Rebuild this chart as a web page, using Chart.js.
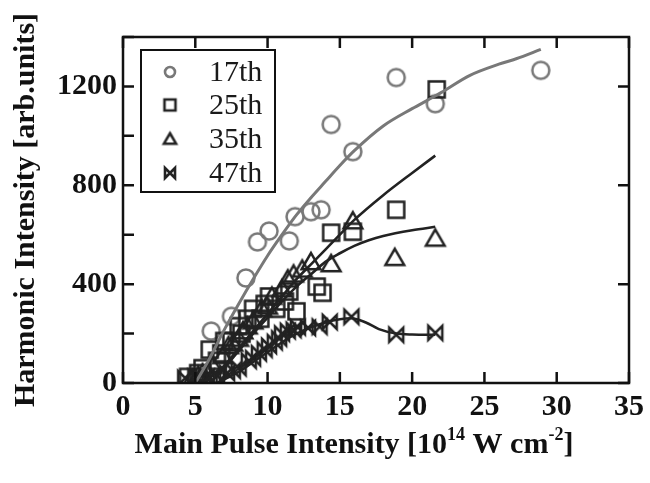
<!DOCTYPE html>
<html>
<head>
<meta charset="utf-8">
<script src="https://cdn.jsdelivr.net/npm/chart.js@4.4.1/dist/chart.umd.min.js"></script>
<style>
  html, body { margin: 0; padding: 0; background: #fff; }
</style>
</head>
<body>
<canvas id="myChart" width="650" height="483"></canvas>
<script>
// harmonic orders shown in the legend
var orders = ['17th', '25th', '35th', '47th'];

// measured points, x in 1e14 W/cm2, y in arb. units
var x17 = [6.1, 7.5, 8.5, 9.3, 10.1, 11.5, 11.9, 13.0, 13.7, 14.4, 15.9, 18.9, 21.6, 28.9];
var y17 = [210, 270, 425, 571, 615, 575, 673, 693, 701, 1046, 936, 1236, 1130, 1265];

var x25 = [4.5, 5.2, 5.5, 6.0, 6.5, 6.8, 7.0, 7.5, 8.0, 8.2, 8.6, 9.0, 9.5, 9.8, 10.1, 10.6, 11.2, 11.5, 12.0, 13.4, 13.8, 14.4, 15.9, 18.9, 21.7];
var y25 = [25, 40, 60, 135, 90, 120, 170, 170, 230, 200, 260, 300, 260, 320, 350, 300, 330, 370, 290, 390, 365, 608, 612, 701, 1188];

var x35 = [4.8, 5.2, 5.5, 6.2, 6.9, 7.3, 7.6, 8.0, 8.3, 8.6, 9.0, 9.6, 10.0, 10.3, 11.0, 11.4, 11.8, 12.4, 13.0, 14.4, 15.9, 18.8, 21.6];
var y35 = [20, 30, 40, 70, 110, 150, 160, 180, 210, 230, 250, 300, 310, 350, 380, 420, 440, 460, 490, 482, 655, 507, 585];

var x47 = [4.3, 5.0, 5.8, 6.0, 6.5, 7.2, 7.6, 8.0, 8.7, 9.0, 9.4, 9.8, 10.1, 10.5, 10.8, 11.0, 11.4, 11.8, 12.1, 12.8, 13.6, 14.3, 15.8, 18.9, 21.6];
var y47 = [20, 25, 25, 20, 30, 40, 50, 60, 90, 100, 120, 135, 150, 165, 180, 200, 210, 215, 225, 223, 228, 247, 268, 195, 203];

// guide curves through each set
var fit17X = [5.0, 6.0, 7.0, 8.0, 9.0, 10.0, 11.0, 12.0, 13.0, 14.0, 15.0, 16.0, 18.0, 20.0, 21.4, 22.0, 24.0, 26.0, 27.2, 28.9];
var fit17Y = [0, 100, 215, 320, 420, 515, 600, 680, 750, 815, 880, 940, 1040, 1110, 1155, 1175, 1245, 1290, 1312, 1350];

var fit25X = [5.5, 7, 8, 9, 10, 11, 12, 13, 14, 15, 16, 18, 20, 21.6];
var fit25Y = [0, 70, 140, 210, 280, 350, 420, 480, 540, 600, 660, 760, 850, 920];

var fit35X = [6, 7, 8, 9, 10, 11, 12, 13, 14, 15, 16, 17, 18, 20, 21.6];
var fit35Y = [0, 60, 130, 200, 265, 330, 390, 440, 490, 525, 555, 578, 595, 618, 632];

var fit47X = [6.5, 8, 9, 10, 11, 12, 13, 14, 15, 15.8, 16.8, 17.7, 18.9, 20, 21.6];
var fit47Y = [0, 45, 85, 125, 165, 200, 225, 245, 258, 262, 245, 218, 200, 196, 195];

var yLabelTicks = [0, 400, 800, 1200];

var GRAY = '#787878';
var DARK = '#222222';
var SERIF = "'Liberation Serif', 'Times New Roman', serif";

function pts(xs, ys) {
  return xs.map(function (x, i) { return { x: x, y: ys[i] }; });
}

// hollow marker drawn on a small canvas, used as pointStyle
function marker(kind, color, s, lw) {
  var c = document.createElement('canvas');
  var n = Math.ceil(s * 2.4 + lw * 2 + 2);
  c.width = n; c.height = n;
  var g = c.getContext('2d');
  g.translate(n / 2, n / 2);
  g.strokeStyle = color;
  g.lineWidth = lw;
  g.miterLimit = 3;
  g.beginPath();
  if (kind == 'circle') {
    g.arc(0, 0, s, 0, Math.PI * 2);
  } else if (kind == 'square') {
    g.rect(-s, -s, 2 * s, 2 * s);
  } else if (kind == 'triangle') {
    g.moveTo(0, -s * 1.05); g.lineTo(s * 1.1, s * 0.85); g.lineTo(-s * 1.1, s * 0.85); g.closePath();
  } else {
    g.moveTo(-s, -s); g.lineTo(s, s); g.lineTo(s, -s); g.lineTo(-s, s); g.closePath();
  }
  g.stroke();
  return c;
}

var kinds = ['circle', 'square', 'triangle', 'bowtie'];
var colors = [GRAY, DARK, DARK, DARK];
var bigSize = [8.5, 8, 8.5, 7];
var smallSize = [5, 5.5, 5.5, 5];
var bigMarks = kinds.map(function (k, i) { return marker(k, colors[i], bigSize[i], 2.5); });
var smallMarks = kinds.map(function (k, i) { return marker(k, colors[i], smallSize[i], 2.6); });

function fitSet(xs, ys, color, w) {
  return {
    data: pts(xs, ys), showLine: true, borderColor: color, borderWidth: w,
    pointRadius: 0, cubicInterpolationMode: 'monotone', fill: false
  };
}
function markSet(xs, ys, i) {
  return {
    label: orders[i], data: pts(xs, ys), showLine: false,
    pointStyle: bigMarks[i], pointRadius: 9
  };
}

var tl = 11;
var decor = {
  id: 'decor',
  afterDraw: function (chart) {
    var ctx = chart.ctx, a = chart.chartArea, xs = chart.scales.x, ys = chart.scales.y;
    ctx.save();
    ctx.strokeStyle = '#111';
    ctx.lineWidth = 2.5;
    ctx.strokeRect(a.left, a.top, a.right - a.left, a.bottom - a.top);
    ctx.beginPath();
    xs.ticks.forEach(function (t) {
      var p = xs.getPixelForValue(t.value);
      ctx.moveTo(p, a.bottom); ctx.lineTo(p, a.bottom - tl);
      ctx.moveTo(p, a.top); ctx.lineTo(p, a.top + tl);
    });
    ys.ticks.forEach(function (t) {
      var p = ys.getPixelForValue(t.value);
      ctx.moveTo(a.left, p); ctx.lineTo(a.left + tl, p);
      if (yLabelTicks.indexOf(t.value) >= 0) { ctx.moveTo(a.right, p); ctx.lineTo(a.right - tl, p); }
    });
    ctx.stroke();

    // legend box
    ctx.lineWidth = 2;
    ctx.strokeRect(141, 50, 134, 142);
    ctx.font = '30px ' + SERIF;
    ctx.fillStyle = '#1a1a1a';
    ctx.textBaseline = 'middle';
    ctx.textAlign = 'left';
    var rows = [72, 105, 139, 173];
    orders.forEach(function (o, i) {
      var m = smallMarks[i];
      ctx.drawImage(m, 170 - m.width / 2, rows[i] - m.height / 2);
      ctx.fillText(o, 209, rows[i] + 1);
    });

    // x title with superscripts
    var big = 'bold 30px ' + SERIF, sm = 'bold 18px ' + SERIF;
    var parts = [['Main Pulse Intensity [10', big, 0], ['14', sm, -13], [' W cm', big, 0], ['-2', sm, -13], [']', big, 0]];
    var w = 0;
    parts.forEach(function (p) { ctx.font = p[1]; w += ctx.measureText(p[0]).width; });
    var x = 354 - w / 2, base = 453;
    ctx.textBaseline = 'alphabetic';
    ctx.fillStyle = '#111';
    parts.forEach(function (p) {
      ctx.font = p[1];
      ctx.fillText(p[0], x, base + p[2]);
      x += ctx.measureText(p[0]).width;
    });
    ctx.restore();
  }
};

var data = {
  datasets: [
    fitSet(fit17X, fit17Y, GRAY, 3),
    fitSet(fit25X, fit25Y, DARK, 2.6),
    fitSet(fit35X, fit35Y, DARK, 2.6),
    fitSet(fit47X, fit47Y, DARK, 2.6),
    markSet(x47, y47, 3),
    markSet(x35, y35, 2),
    markSet(x25, y25, 1),
    markSet(x17, y17, 0)
  ]
};

var config = {
  type: 'scatter',
  data: data,
  options: {
    responsive: false,
    animation: false,
    events: [],
    layout: { padding: { top: 37, right: 19, left: 0, bottom: 0 } },
    plugins: { legend: { display: false }, tooltip: { enabled: false } },
    scales: {
      x: {
        type: 'linear', min: 0, max: 35,
        grid: { display: false, drawTicks: false },
        border: { display: false },
        ticks: { stepSize: 5, padding: 6, color: '#111', font: { family: SERIF, size: 30, weight: 'bold' } },
        afterFit: function (s) { s.height = 100; }
      },
      y: {
        type: 'linear', min: 0, max: 1400,
        grid: { display: false, drawTicks: false },
        border: { display: false },
        ticks: {
          stepSize: 200, autoSkip: false, padding: 6, color: '#111',
          font: { family: SERIF, size: 30, weight: 'bold' },
          callback: function (v) { return yLabelTicks.indexOf(v) >= 0 ? v : ''; }
        },
        title: {
          display: true, text: 'Harmonic Intensity [arb.units]', color: '#111',
          font: { family: SERIF, size: 30, weight: 'bold' }, padding: { top: 8, bottom: 0 }
        },
        afterFit: function (s) { s.width = 123; }
      }
    }
  },
  plugins: [decor]
};

var myChart = new Chart(document.getElementById('myChart'), config);
</script>
</body>
</html>
